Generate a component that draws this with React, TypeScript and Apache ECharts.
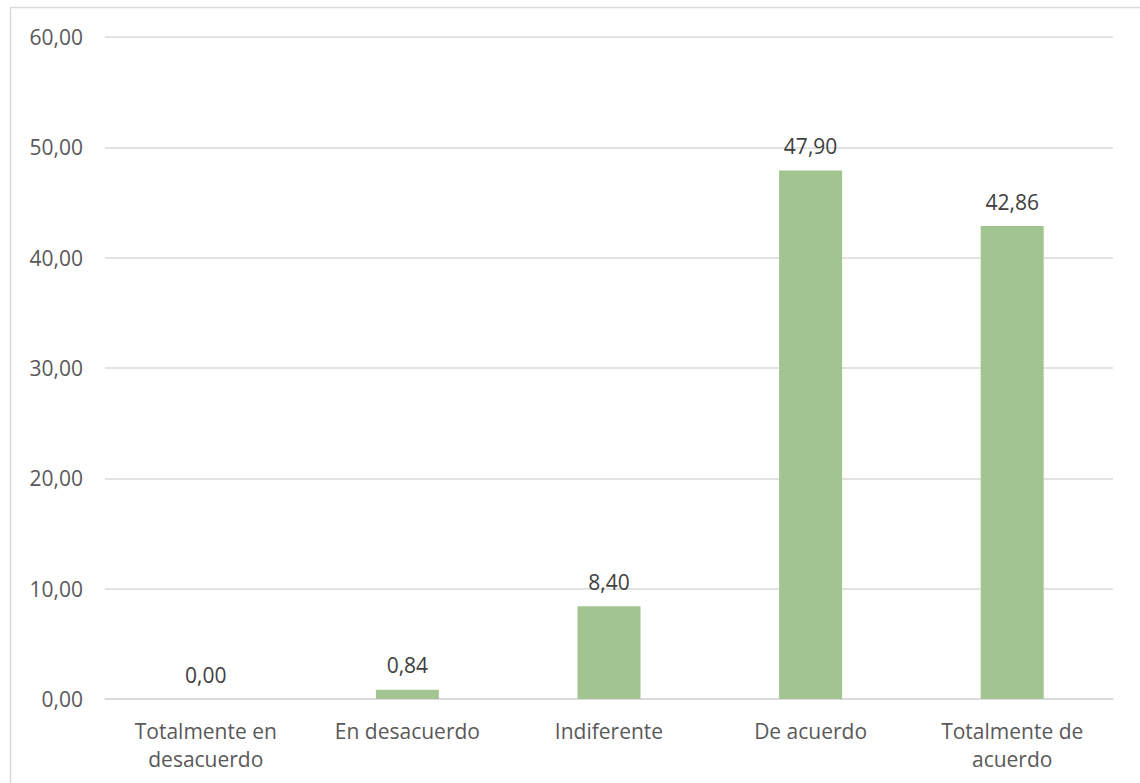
import React, { useEffect, useRef } from "react";
import * as echarts from "echarts";

const categories = [
  "Totalmente en\ndesacuerdo",
  "En desacuerdo",
  "Indiferente",
  "De acuerdo",
  "Totalmente de\nacuerdo",
];
const values = [0.0, 0.84, 8.4, 47.9, 42.86];

const fmt = (v: number) => v.toFixed(2).replace(".", ",");

export default function App() {
  const ref = useRef<HTMLDivElement>(null);
  useEffect(() => {
    const chart = echarts.init(ref.current!, undefined, { renderer: "svg" });
    const font = "'Open Sans', 'Liberation Sans', sans-serif";
    chart.setOption({
      animation: false,
      backgroundColor: "#ffffff",
      graphic: [
        {
          type: "rect",
          shape: { x: 10.5, y: 7.5, width: 1200, height: 900 },
          style: { fill: "none", stroke: "#d9d9d9", lineWidth: 1.5 },
          silent: true,
        },
      ],
      grid: { left: 105, right: 27, top: 37, bottom: 84 },
      xAxis: {
        type: "category",
        data: categories,
        axisLine: { show: true, lineStyle: { color: "#d9d9d9", width: 1.5 } },
        axisTick: { show: false },
        axisLabel: {
          color: "#595959",
          fontSize: 21,
          fontFamily: font,
          lineHeight: 28,
          margin: 18,
          interval: 0,
        },
      },
      yAxis: {
        type: "value",
        min: 0,
        max: 60,
        interval: 10,
        axisLine: { show: false },
        axisTick: { show: false },
        splitLine: { lineStyle: { color: "#d9d9d9", width: 1.5 } },
        axisLabel: {
          color: "#595959",
          fontSize: 21,
          fontFamily: font,
          margin: 22,
          formatter: (v: number) => fmt(v),
        },
      },
      series: [
        {
          type: "bar",
          data: values,
          barWidth: 63,
          itemStyle: { color: "#a2c490" },
          label: {
            show: true,
            position: "top",
            distance: 14,
            color: "#404040",
            fontSize: 21,
            fontFamily: font,
            formatter: (p: any) => fmt(p.value),
          },
        },
      ],
    });
    return () => chart.dispose();
  }, []);
  return (
    <div
      ref={ref}
      style={{ position: "absolute", left: 0, top: 0, width: 1140, height: 783 }}
    />
  );
}
